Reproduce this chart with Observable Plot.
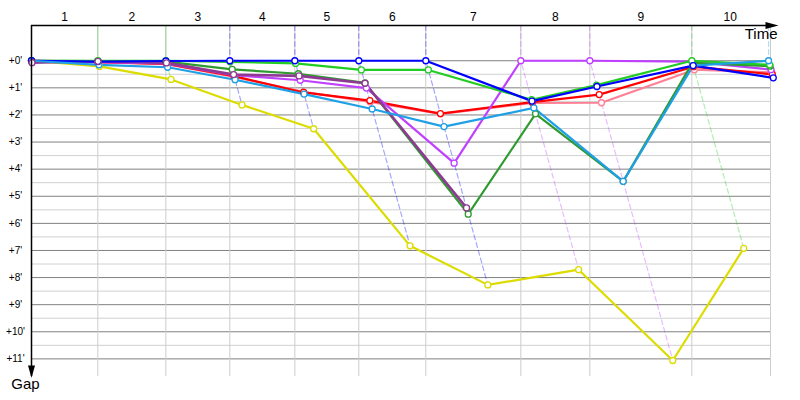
<!DOCTYPE html>
<html>
<head>
<meta charset="utf-8">
<script src="https://cdn.jsdelivr.net/npm/d3@7"></script>
<script src="https://cdn.jsdelivr.net/npm/@observablehq/plot@0.6"></script>
<style>
  html, body { margin: 0; padding: 0; background: #fff; }
</style>
</head>
<body>
<div id="chart"></div>
<script>
// ---- data ----
const lapLabels = ["1", "2", "3", "4", "5", "6", "7", "8", "9", "10"];
// leader's elapsed time (minutes) at the end of each lap (index 0 = start)
const leaderTimes = [0, 8.84, 17.91, 26.44, 35.11, 43.64, 52.57, 65.24, 74.44, 88.04, 98.27];
const timeMax = 98.53;
const gapMin = -1.3;
const gapMax = 11.65;
const gapTicks = [0, 1, 2, 3, 4, 5, 6, 7, 8, 9, 10, 11];

// gap to leader (minutes) per lap, index 0 = start
const gapYellow     = [0, 0.21, 0.69, 1.63, 2.51, 6.83, 8.27, 7.71, 11.06, 6.92, null];
const gapPink       = [0, 0.05, 0.13, 0.60, 1.15, 1.52, 1.96, 1.56, 1.55, 0.33, 0.43];
const gapRed        = [0, 0.05, 0.12, 0.57, 1.17, 1.47, 1.95, 1.53, 1.25, 0.22, 0.50];
const gapMagenta    = [0.02, 0.05, 0.10, 0.53, 0.72, 1.01, 3.78, 0, 0, 0.03, 0.33];
const gapDarkGreen  = [0, 0.01, 0.03, 0.32, 0.48, 0.82, 5.66, 1.96, 4.45, 0.08, 0.20];
const gapDarkPurple = [0.07, 0.02, 0.08, 0.51, 0.56, 0.83, 5.43, null, null, null, null];
const gapGreen      = [0, 0, 0, 0.04, 0.10, 0.34, 0.34, 1.44, 0.90, 0, 0.15];
const gapBlue       = [0, 0.03, 0.01, 0, 0, 0, 0, 1.49, 0.95, 0.18, 0.63];
const gapSky        = [0, 0.15, 0.24, 0.70, 1.23, 1.78, 2.43, 1.74, 4.45, 0.18, 0];

const carNames  = ["Car A", "Car B", "Car C", "Car D", "Car E", "Car F", "Car G", "Car H", "Car I"];
const carColors = ["#dcdc00", "#ff8095", "#ff0000", "#c040ff", "#2f9a2f", "#8e3a92", "#22cc22", "#0000ff", "#1e9fe6"];
const carGaps   = [gapYellow, gapPink, gapRed, gapMagenta, gapDarkGreen, gapDarkPurple, gapGreen, gapBlue, gapSky];
const dotOrder  = ["Car A", "Car B", "Car C", "Car D", "Car E", "Car G", "Car I", "Car H", "Car F"];

// ---- derived tables ----
const points = [];
carNames.forEach((car, ci) => {
  carGaps[ci].forEach((g, lap) => {
    if (g != null) points.push({car, lap, gap: g, time: leaderTimes[lap] + g});
  });
});

const lapLines = [];
for (let lap = 1; lap < leaderTimes.length; ++lap) {
  let leader = null, lead = Infinity, gmax = -Infinity;
  carNames.forEach((car, ci) => {
    const g = carGaps[ci][lap];
    if (g == null) return;
    if (g < lead) { lead = g; leader = car; }
    if (g > gmax) gmax = g;
  });
  const T = leaderTimes[lap];
  const style = lap <= 2 ? "solid" : "dashed";
  lapLines.push({lap, car: leader, style, time: T, gap: gapMin});
  lapLines.push({lap, car: leader, style, time: T, gap: 0});
  lapLines.push({lap, car: leader, style, time: T + gmax, gap: gmax});
}

const halfTicks = gapTicks.slice(0, -1).map(d => d + 0.5);
const lapMid = lapLabels.map((_, i) => (leaderTimes[i] + leaderTimes[i + 1]) / 2);

const arrowRight = {draw(ctx) { ctx.moveTo(8, 0); ctx.lineTo(-5, -3.5); ctx.lineTo(-5, 3.5); ctx.closePath(); }};
const arrowDown  = {draw(ctx) { ctx.moveTo(0, 1.5); ctx.lineTo(-3.5, -11); ctx.lineTo(3.5, -11); ctx.closePath(); }};

const font = "Liberation Sans, Arial, sans-serif";

const seriesMarks = [];
carNames.forEach(car => {
  seriesMarks.push(Plot.line(points.filter(d => d.car === car), {
    x: "time", y: "gap", stroke: "car",
    strokeWidth: car === "Car F" ? 2.6 : 2.2, strokeLinejoin: "round"
  }));
});
const dotMarks = [];
dotOrder.forEach(car => {
  dotMarks.push(Plot.dot(points.filter(d => d.car === car), {
    x: "time", y: "gap", stroke: "car", fill: "white", r: 3, strokeWidth: 1.3
  }));
});

const chart = Plot.plot({
  width: 800,
  height: 400,
  marginLeft: 31,
  marginRight: 30,
  marginTop: 25,
  marginBottom: 24,
  style: {fontFamily: font, background: "white", overflow: "visible"},
  x: {domain: [0, timeMax], axis: null},
  y: {domain: [gapMin, gapMax], reverse: true, axis: null},
  color: {type: "ordinal", domain: carNames, range: carColors},
  marks: [
    // grid
    Plot.ruleY(halfTicks, {x1: 0, x2: timeMax, stroke: "#d0d0d0", strokeWidth: 1}),
    Plot.ruleY(gapTicks, {x1: 0, x2: timeMax, stroke: "#808080", strokeWidth: 1}),
    Plot.ruleX([...leaderTimes.slice(1, 10), timeMax], {y1: gapMin, y2: gapMax, stroke: "#cccccc", strokeWidth: 1}),
    // lap lines
    Plot.line(lapLines.filter(d => d.style === "solid"), {
      x: "time", y: "gap", z: "lap", stroke: "car", strokeOpacity: 0.3, strokeWidth: 1.2
    }),
    Plot.line(lapLines.filter(d => d.style === "dashed"), {
      x: "time", y: "gap", z: "lap", stroke: "car", strokeOpacity: 0.35, strokeWidth: 1.2, strokeDasharray: "5,3"
    }),
    // series
    ...seriesMarks,
    ...dotMarks,
    // axes
    Plot.ruleY([gapMin], {x1: 0, x2: timeMax, stroke: "black", strokeWidth: 1.3}),
    Plot.ruleX([0], {y1: gapMin, y2: gapMax, stroke: "black", strokeWidth: 1.5}),
    Plot.dot([0], {x: timeMax, y: gapMin, symbol: arrowRight, fill: "black", stroke: null}),
    Plot.dot([0], {x: 0, y: gapMax, symbol: arrowDown, fill: "black", stroke: null}),
    // labels
    Plot.text(lapLabels, {x: (d, i) => lapMid[i], y: gapMin, text: d => d, dy: -8, fontSize: 12, fill: "black"}),
    Plot.text(gapTicks, {x: 0, y: d => d, text: d => `+${d}'`, dx: -16, fontSize: 10, textAnchor: "middle", fill: "black"}),
    Plot.text(["Time"], {frameAnchor: "top-right", text: d => d, textAnchor: "end", lineAnchor: "top", dx: 7, dy: 3, fontSize: 15, fill: "black"}),
    Plot.text(["Gap"], {frameAnchor: "bottom-left", text: d => d, textAnchor: "middle", lineAnchor: "top", dx: -6, dy: 2, fontSize: 15, fill: "black"})
  ]
});
document.getElementById("chart").appendChild(chart);
</script>
</body>
</html>
